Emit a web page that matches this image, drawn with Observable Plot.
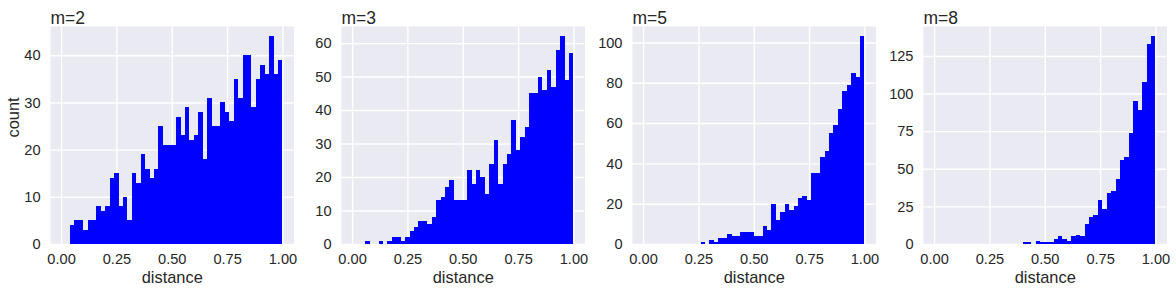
<!DOCTYPE html>
<html>
<head>
<meta charset="utf-8">
<script src="https://cdn.jsdelivr.net/npm/d3@7"></script>
<script src="https://cdn.jsdelivr.net/npm/@observablehq/plot@0.6"></script>
<style>
  html, body { margin: 0; padding: 0; background: #ffffff; }
  #chart { position: relative; width: 1176px; height: 291px; overflow: hidden; }
  #chart svg { position: absolute; top: 0; background: transparent; overflow: visible; }
</style>
</head>
<body>
<div id="chart"></div>
<script>
// ---- data (histogram counts, 50 bins of width 0.02 over [0, 1]) ----
const titles = ["m=2", "m=3", "m=5", "m=8"];
const binWidth = 0.02;
const countsM2 = [0,0,4,5,5,3,5,5,8,7,8,14,15,8,10,5,15,13,19,16,14,16,25,21,21,21,27,23,29,22,23,28,18,31,25,25,30,28,26,35,31,40,40,29,35,38,36,44,36,39];
const countsM3 = [0,0,0,1,0,0,1,0,1,2,2,1,2,4,5,7,7,6,8,13,14,17,19,13,13,13,22,18,22,20,15,24,31,18,24,27,37,28,32,35,45,45,50,46,52,47,58,62,49,57];
const countsM5 = [0,0,0,0,0,0,0,0,0,0,0,0,0,1,0,2,1,3,3,5,4,4,6,6,6,4,4,9,7,20,12,16,20,17,19,23,24,22,35,35,43,46,55,59,67,76,79,85,83,103];
const countsM8 = [0,0,0,0,0,0,0,0,0,0,0,0,0,0,0,0,0,0,0,0,1,1,0,2,1,1,1,3,5,3,2,5,6,5,13,18,19,29,23,34,35,43,56,58,74,95,89,108,133,138];
const xTicks = [0, 0.25, 0.5, 0.75, 1];
const yTicksM2 = [0, 10, 20, 30, 40];
const yTicksM3 = [0, 10, 20, 30, 40, 50, 60];
const yTicksM5 = [0, 20, 40, 60, 80, 100];
const yTicksM8 = [0, 25, 50, 75, 100, 125];
const xLabel = "distance";
const yLabel = "count";

// ---- layout ----
const allCounts = [countsM2, countsM3, countsM5, countsM8];
const allYTicks = [yTicksM2, yTicksM3, yTicksM5, yTicksM8];
const frameLefts = [50, 341, 632.3, 923.3];
const frameW = 243.5;
const mL = 50, mT = 26, mB = 47, W = 300;
const textColor = "#262626";
const font = "'Liberation Sans', Arial, Helvetica, sans-serif";

const chart = document.getElementById("chart");

allCounts.forEach((counts, p) => {
  const bins = counts
    .map((c, i) => ({x1: i * binWidth, x2: (i + 1) * binWidth, y: c}))
    .filter(d => d.y > 0);
  const ymax = d3.max(counts) * 1.05;
  const marks = [
    Plot.frame({fill: "#EAEAF2", stroke: null}),
    Plot.gridX(xTicks, {stroke: "white", strokeOpacity: 1, strokeWidth: 1.4}),
    Plot.gridY(allYTicks[p], {stroke: "white", strokeOpacity: 1, strokeWidth: 1.4}),
    Plot.rectY(bins, {x1: "x1", x2: "x2", y: "y", fill: "#0000FF", shapeRendering: "crispEdges"}),
    Plot.axisX(xTicks, {tickFormat: d => d.toFixed(2), tickSize: 0, tickPadding: 9, fontSize: 14.6, fill: textColor, label: null}),
    Plot.axisY(allYTicks[p], {tickSize: 0, tickPadding: 10, fontSize: 14.6, fill: textColor, label: null}),
    Plot.text([titles[p]], {frameAnchor: "top-left", text: d => d, textAnchor: "start", dy: -14.5, fontSize: 17.5, fill: textColor}),
    Plot.text([xLabel], {frameAnchor: "bottom", text: d => d, dy: 38, fontSize: 16.4, fill: textColor})
  ];
  if (p === 0) {
    marks.push(Plot.text([yLabel], {frameAnchor: "left", text: d => d, rotate: -90, dx: -37, dy: 2, fontSize: 16.4, fill: textColor}));
  }
  const svg = Plot.plot({
    width: W,
    height: 291,
    marginLeft: mL,
    marginRight: W - mL - frameW,
    marginTop: mT,
    marginBottom: mB,
    x: {domain: [-0.05, 1.05]},
    y: {domain: [0, ymax]},
    style: {background: "transparent", fontFamily: font, color: textColor, overflow: "visible"},
    marks
  });
  svg.style.left = (frameLefts[p] - mL) + "px";
  chart.appendChild(svg);
});
</script>
</body>
</html>
